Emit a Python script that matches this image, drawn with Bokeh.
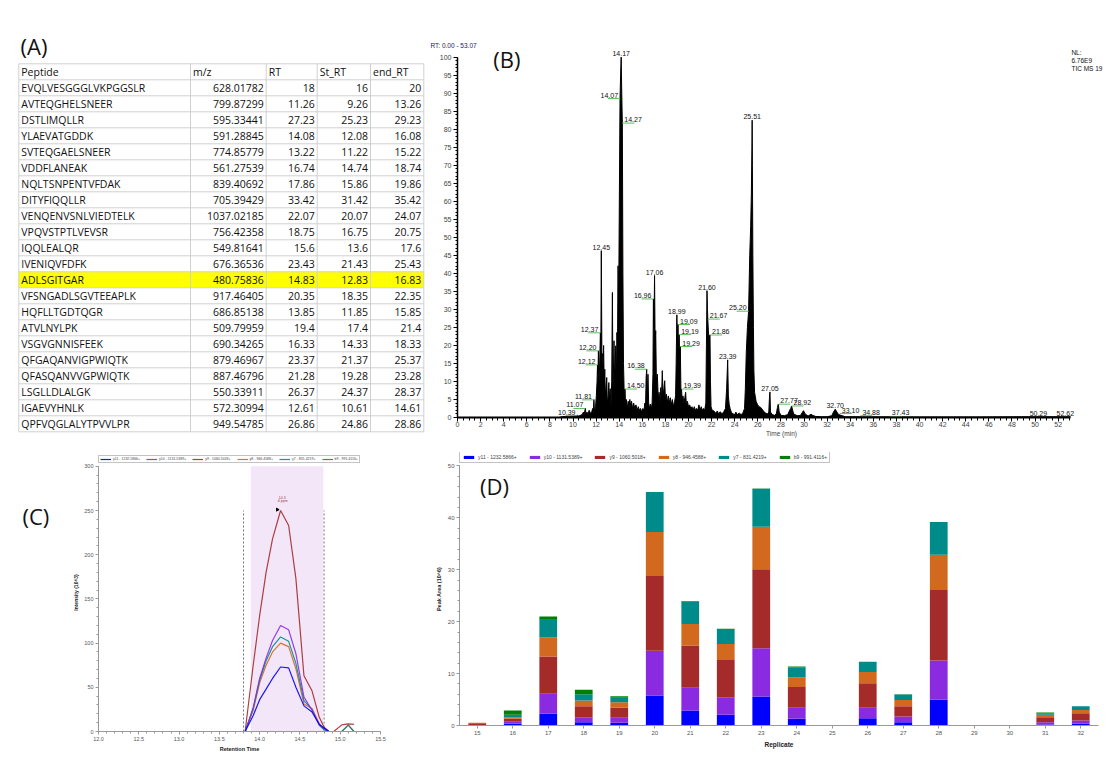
from math import pi
from bokeh.plotting import figure
from bokeh.models import (Range1d, FactorRange, Label, Legend, LegendItem, BoxAnnotation,
                          SingleIntervalTicker, NumeralTickFormatter, ColumnDataSource)
from bokeh.layouts import column, row
from bokeh.embed import file_html
from bokeh.resources import INLINE
from bokeh.core.properties import value

FONT = "Liberation Sans"
TFONT = "Open Sans"

# ---------------- (A) table data ----------------
table_header = ["Peptide", "m/z", "RT", "St_RT", "end_RT"]
peptides = ["EVQLVESGGGLVKPGGSLR", "AVTEQGHELSNEER", "DSTLIMQLLR", "YLAEVATGDDK",
            "SVTEQGAELSNEER", "VDDFLANEAK", "NQLTSNPENTVFDAK", "DITYFIQQLLR",
            "VENQENVSNLVIEDTELK", "VPQVSTPTLVEVSR", "IQQLEALQR", "IVENIQVFDFK",
            "ADLSGITGAR", "VFSNGADLSGVTEEAPLK", "HQFLLTGDTQGR", "ATVLNYLPK",
            "VSGVGNNISFEEK", "QFGAQANVIGPWIQTK", "QFASQANVVGPWIQTK", "LSGLLDLALGK",
            "IGAEVYHNLK", "QPFVQGLALYTPVVLPR"]
mz = [628.01782, 799.87299, 595.33441, 591.28845, 774.85779, 561.27539, 839.40692,
      705.39429, 1037.02185, 756.42358, 549.81641, 676.36536, 480.75836, 917.46405,
      686.85138, 509.79959, 690.34265, 879.46967, 887.46796, 550.33911, 572.30994,
      949.54785]
rt = [18, 11.26, 27.23, 14.08, 13.22, 16.74, 17.86, 33.42, 22.07, 18.75, 15.6, 23.43,
      14.83, 20.35, 13.85, 19.4, 16.33, 23.37, 21.28, 26.37, 12.61, 26.86]
st_rt = [16, 9.26, 25.23, 12.08, 11.22, 14.74, 15.86, 31.42, 20.07, 16.75, 13.6, 21.43,
         12.83, 18.35, 11.85, 17.4, 14.33, 21.37, 19.28, 24.37, 10.61, 24.86]
end_rt = [20, 13.26, 29.23, 16.08, 15.22, 18.74, 19.86, 35.42, 24.07, 20.75, 17.6, 25.43,
          16.83, 22.35, 15.85, 21.4, 18.33, 25.37, 23.28, 28.37, 14.61, 28.86]
highlighted_peptide = "ADLSGITGAR"

# ---------------- (B) TIC chromatogram ----------------
tic_rt = [
    0.0, 8.8, 9.0, 9.5, 10.0, 10.39, 10.5, 10.8, 10.9, 10.95,
    11.07, 11.12, 11.2, 11.3, 11.4, 11.5, 11.62, 11.7, 11.75, 11.81,
    11.86, 11.95, 12.02, 12.08, 12.12, 12.16, 12.2, 12.25, 12.3, 12.37,
    12.41, 12.45, 12.5, 12.55, 12.6, 12.65, 12.7, 12.75, 12.8, 12.85,
    12.92, 12.97, 13.05, 13.1, 13.15, 13.22, 13.28, 13.35, 13.41, 13.46,
    13.5, 13.55, 13.6, 13.65, 13.7, 13.75, 13.8, 13.85, 13.9, 13.95,
    14.0, 14.07, 14.12, 14.17, 14.22, 14.27, 14.32, 14.37, 14.42, 14.46,
    14.5, 14.55, 14.62, 14.7, 14.78, 14.85, 14.92, 15.0, 15.07, 15.15,
    15.25, 15.35, 15.45, 15.55, 15.65, 15.75, 15.85, 15.95, 16.05, 16.15,
    16.22, 16.28, 16.33, 16.38, 16.43, 16.49, 16.55, 16.62, 16.7, 16.78,
    16.85, 16.92, 16.96, 17.01, 17.06, 17.11, 17.16, 17.22, 17.3, 17.38,
    17.45, 17.52, 17.6, 17.66, 17.73, 17.8, 17.87, 17.94, 18.0, 18.08,
    18.16, 18.25, 18.33, 18.42, 18.5, 18.6, 18.7, 18.8, 18.88, 18.93,
    18.99, 19.04, 19.09, 19.14, 19.19, 19.24, 19.29, 19.34, 19.39, 19.45,
    19.52, 19.6, 19.68, 19.75, 19.82, 19.9, 20.0, 20.1, 20.2, 20.3,
    20.4, 20.5, 20.6, 20.7, 20.8, 20.9, 21.0, 21.1, 21.2, 21.3,
    21.4, 21.5, 21.55, 21.6, 21.64, 21.67, 21.72, 21.78, 21.86, 21.9,
    21.95, 22.05, 22.2, 22.35, 22.5, 22.6, 22.75, 22.9, 23.05, 23.2,
    23.3, 23.39, 23.45, 23.52, 23.6, 23.7, 23.85, 24.0, 24.1, 24.2,
    24.4, 24.55, 24.7, 24.85, 24.92, 25.0, 25.1, 25.2, 25.3, 25.38,
    25.44, 25.49, 25.51, 25.53, 25.57, 25.62, 25.66, 25.72, 25.85, 25.96,
    26.1, 26.25, 26.4, 26.55, 26.7, 26.85, 26.95, 27.0, 27.05, 27.1,
    27.25, 27.45, 27.6, 27.7, 27.77, 27.85, 28.0, 28.3, 28.6, 28.75,
    28.85, 28.92, 29.1, 29.4, 29.7, 29.95, 30.1, 30.35, 30.6, 30.75,
    31.0, 31.5, 32.0, 32.4, 32.55, 32.7, 32.85, 33.0, 33.3, 33.6,
    35.0, 40.0, 45.0, 50.0, 53.07,
]
tic_abundance = [
    0.0, 0.0, 0.2, 0.3, 0.4, 0.6, 0.4, 0.8, 1.5, 0.6,
    2.6, 0.8, 1.5, 1.0, 2.0, 1.2, 1.5, 2.5, 1.0, 5.0,
    1.5, 3.0, 6.0, 10.0, 14.6, 12.0, 18.5, 10.0, 14.0, 23.5,
    20.0, 46.3, 18.0, 17.6, 14.0, 20.0, 9.0, 13.4, 6.0, 8.0,
    11.1, 4.0, 6.0, 9.7, 5.0, 8.0, 3.0, 10.0, 34.7, 8.0,
    12.0, 21.3, 10.0, 14.0, 19.9, 9.0, 23.6, 20.0, 42.1, 30.0,
    55.0, 88.5, 95.0, 100.0, 90.0, 81.7, 40.0, 15.0, 8.3, 4.0,
    7.9, 3.0, 5.0, 2.5, 4.5, 2.5, 5.0, 3.0, 4.5, 2.5,
    4.0, 2.5, 3.5, 2.0, 3.0, 2.0, 2.5, 1.5, 2.5, 2.0,
    4.0, 3.0, 11.0, 13.4, 5.0, 12.0, 4.0, 2.5, 3.7, 2.5,
    4.0, 12.0, 32.9, 25.0, 39.4, 20.0, 24.1, 10.0, 12.0, 5.0,
    7.0, 4.0, 8.3, 5.0, 13.0, 6.0, 8.0, 10.2, 5.0, 6.5,
    4.0, 6.0, 4.0, 5.5, 3.5, 5.0, 3.0, 4.5, 6.0, 15.0,
    28.5, 22.0, 25.8, 18.0, 23.0, 15.0, 19.7, 8.0, 7.9, 5.0,
    6.0, 4.0, 5.5, 7.0, 3.5, 4.5, 3.0, 3.5, 2.5, 3.0,
    2.0, 3.0, 2.0, 2.5, 2.0, 3.5, 2.0, 3.0, 2.0, 2.5,
    2.0, 4.0, 20.0, 35.2, 30.0, 27.3, 24.0, 22.0, 22.9, 10.0,
    3.0, 2.0, 1.8, 1.2, 1.8, 1.0, 1.6, 1.0, 1.6, 2.5,
    8.0, 16.0, 6.0, 3.7, 2.5, 1.5, 1.0, 0.8, 1.5, 0.8,
    1.2, 0.8, 1.2, 2.5, 8.0, 18.0, 25.0, 29.5, 45.0, 53.0,
    62.0, 75.0, 82.5, 70.0, 45.0, 25.0, 13.0, 7.0, 4.5, 3.7,
    3.0, 2.8, 2.2, 1.5, 1.2, 1.0, 1.5, 5.0, 7.1, 1.5,
    0.8, 0.6, 1.0, 2.8, 3.7, 1.5, 0.6, 0.5, 0.8, 2.0,
    2.5, 3.2, 1.0, 0.5, 0.6, 1.9, 1.0, 0.4, 0.9, 0.6,
    0.3, 0.2, 0.2, 0.5, 1.5, 2.3, 1.5, 0.8, 0.5, 0.2,
    0.2, 0.15, 0.15, 0.2, 0.2,
]
peak_rt = [14.17, 14.07, 14.27, 25.51, 12.45, 17.06, 16.96, 21.60, 21.67, 21.86,
           18.99, 19.09, 19.19, 19.29, 19.39, 25.20, 23.39, 12.37, 12.20, 12.12,
           16.38, 14.50, 11.81, 11.07, 10.39, 27.05, 27.77, 28.92, 32.70, 33.10,
           34.88, 37.43, 50.29, 52.62]
peak_abundance = [100.0, 88.5, 81.7, 82.5, 46.3, 39.4, 32.9, 35.2, 27.3, 22.9,
                  28.5, 25.8, 23.0, 19.7, 7.9, 29.5, 16.0, 23.5, 18.5, 14.6,
                  13.4, 7.9, 4.9, 2.5, 0.5, 7.1, 3.7, 3.2, 2.3, 1.1,
                  0.5, 0.3, 0.2, 0.2]
peak_side = ["t", "l", "r", "t", "t", "t", "l", "t", "r", "r",
             "t", "r", "r", "r", "r", "l", "t", "l", "l", "l",
             "l", "r", "l", "l", "l", "t", "r", "r", "t", "r",
             "r", "r", "t", "t"]
tic_info = ["NL:", "6.76E9", "TIC  MS 19"]

# ---------------- (C) XIC ----------------
xic_time = [12.33, 13.56, 13.82, 13.92, 14.0, 14.08, 14.16, 14.26, 14.36, 14.45,
            14.55, 14.65, 14.74, 14.8, 14.86, 14.92, 15.02, 15.1, 15.17]
xic_y11 = [0, 0, 0, 18, 36, 48, 60, 73, 72, 50, 29, 22, 8, 4, 0, 0, 0, 0, 0]
xic_y10 = [0, 0, 0, 27, 60, 83, 103, 120, 115, 88, 39, 24, 8, 3, 0, 0, 0, 0, 0]
xic_y9 = [0, 0, 0, 75, 131, 180, 218, 250, 233, 173, 63, 46, 16, 5, 0, 0, 7.5, 8.7, 8]
xic_y8 = [0, 0, 0, 24, 55, 75, 90, 100, 96, 71, 31, 26, 9, 3, 0, 0, 0, 7, 0]
xic_y7 = [0, 0, 0, 26, 58, 80, 96, 107, 102, 77, 35, 25, 7, 2, 0, 0, 0, 7.5, 0]
xic_b9_time = [13.56, 14.82]
xic_b9 = [0, 0]
ion_labels = ["y11 - 1232.5866+", "y10 - 1131.5389+", "y9 - 1060.5018+",
              "y8 - 946.4588+", "y7 - 831.4219+", "b9 - 991.4116+"]
ion_colors = ["#0000ff", "#8a2be2", "#a52a2a", "#d2691e", "#008b8b", "#008000"]
integration_start, integration_end = 13.89, 14.79
boundary_times = [13.8, 14.8]
apex_time, apex_value = 14.26, 250

# ---------------- (D) peak areas ----------------
replicates = [str(v) for v in range(15, 33)]
area_y11 = [0.0, 0.35, 2.25, 0.65, 0.55, 5.8, 2.9, 2.05, 5.6, 1.3, 0, 1.4, 0.65, 4.95, 0, 0, 0.2, 0.32]
area_y10 = [0.05, 0.35, 3.85, 0.95, 0.95, 8.6, 4.35, 3.4, 9.3, 2.1, 0, 2.0, 1.1, 7.55, 0, 0, 0.45, 0.64]
area_y9 = [0.4, 0.6, 7.2, 2.1, 1.9, 14.4, 8.15, 7.15, 15.2, 4.0, 0, 4.75, 1.95, 13.6, 0, 0, 0.95, 1.41]
area_y8 = [0.1, 0.3, 3.7, 1.1, 1.1, 8.5, 4.15, 3.1, 8.2, 1.9, 0, 2.15, 1.2, 6.8, 0, 0, 0.45, 0.63]
area_y7 = [0.0, 0.45, 3.5, 1.2, 0.85, 7.7, 4.35, 2.9, 7.3, 1.9, 0, 2.0, 1.05, 6.3, 0, 0, 0.3, 0.7]
area_b9 = [0.0, 0.85, 0.5, 0.9, 0.3, 0.0, 0.1, 0.05, 0.05, 0.15, 0, 0, 0.05, 0, 0, 0, 0.15, 0.0]


def bare(width, height, xr, yr):
    p = figure(width=width, height=height, x_range=xr, y_range=yr,
               output_backend="svg", toolbar_location=None,
               x_axis_location=None, y_axis_location=None, min_border=0)
    p.grid.visible = False
    p.outline_line_color = None
    return p


# ======================= (A) =======================
def build_table():
    # canvas coordinates: x 0..430, y 0..440 (top to bottom)
    p = bare(430, 440, Range1d(0, 430), Range1d(440, 0))
    xb = [18.3, 190.0, 265.7, 316.7, 370.0, 423.3]
    top0, rh = 63.3, 16.0
    nrows = len(peptides) + 1
    hi = peptides.index(highlighted_peptide) + 1
    p.quad(left=[xb[0]], right=[xb[-1]], top=[top0 + hi * rh], bottom=[top0 + (hi + 1) * rh],
           fill_color="#ffff00", line_color=None)
    ys = [top0 + i * rh for i in range(nrows + 1)]
    p.segment(x0=[xb[0]] * len(ys), x1=[xb[-1]] * len(ys), y0=ys, y1=ys,
              line_color="#d0d0d0", line_width=1)
    p.segment(x0=xb, x1=xb, y0=[ys[0]] * len(xb), y1=[ys[-1]] * len(xb),
              line_color="#d0d0d0", line_width=1)
    common = dict(text_font=value(TFONT), text_font_size="10.5px", text_color="#111111",
                  text_baseline="middle")
    p.text(x=[xb[i] + 2.5 for i in range(5)], y=[top0 + rh / 2 + 0.5] * 5, text=table_header,
           text_align="left", **common)
    yc = [top0 + (i + 1) * rh + rh / 2 + 0.5 for i in range(len(peptides))]
    p.text(x=[xb[0] + 2.5] * len(peptides), y=yc, text=peptides, text_align="left", **common)
    for ci, col in enumerate([mz, rt, st_rt, end_rt]):
        p.text(x=[xb[ci + 2] - 2.5] * len(col), y=yc, text=[str(v) for v in col],
               text_align="right", **common)
    p.add_layout(Label(x=20, y=45, text="(A)", text_font=TFONT, text_font_size="22px",
                       text_baseline="middle", text_color="#111111"))
    return p


# ======================= (B) =======================
def build_tic():
    # frame: x 457..1105 (0..56.1 min), y 48..417 (102.4..0 %)
    p = figure(width=677, height=440, x_range=Range1d(0, 56.1), y_range=Range1d(0, 102.4),
               output_backend="svg", toolbar_location=None, title="RT: 0.00 - 53.07",
               min_border_left=27, min_border_right=2, min_border_top=48, min_border_bottom=23)
    p.grid.visible = False
    p.outline_line_color = None
    p.title.align = "left"
    p.title.offset = -27
    p.title.standoff = 0
    p.title.text_font = FONT
    p.title.text_font_size = "6.5px"
    p.title.text_font_style = "normal"
    p.title.text_color = "#1c1c5c"

    p.varea(x=tic_rt, y1=[0] * len(tic_rt), y2=tic_abundance, fill_color="black")
    p.line(x=tic_rt, y=tic_abundance, line_color="black", line_width=1)

    px_x, px_y = 1 / 11.55, 1 / 3.603
    lx, ly, la, gx0, gx1, gy = [], [], [], [], [], []
    for t, a, s in zip(peak_rt, peak_abundance, peak_side):
        if s == "t":
            lx.append(t); la.append("center")
        elif s == "l":
            lx.append(t - 2 * px_x); la.append("right")
            gx0.append(t - 12 * px_x); gx1.append(t); gy.append(a)
        else:
            lx.append(t + 2 * px_x); la.append("left")
            gx0.append(t); gx1.append(t + 12 * px_x); gy.append(a)
        ly.append(a + 1 * px_y)
    p.segment(x0=gx0, x1=gx1, y0=gy, y1=gy, line_color="#5cc05c", line_width=1)
    p.text(x=lx, y=ly, text=[f"{t:.2f}" for t in peak_rt], text_align=la,
           text_baseline="bottom", text_font=value(FONT), text_font_size="7px",
           text_color="#101010")
    p.text(x=[53.15] * 3, y=[101.2 - i * 8 * px_y for i in range(3)], text=tic_info,
           text_baseline="middle", text_font=value(FONT), text_font_size="6.5px",
           text_color="#101010")

    ax = p.xaxis[0]
    ax.bounds = (0, 53.07)
    ax.ticker = SingleIntervalTicker(interval=2, num_minor_ticks=4)
    ax.axis_line_width = 2
    ax.major_tick_out = 4
    ax.major_tick_in = 0
    ax.minor_tick_out = 3
    ax.minor_tick_in = 0
    ax.major_label_text_font = FONT
    ax.major_label_text_font_size = "7px"
    ax.major_label_standoff = 0
    ax.axis_label = "Time (min)"
    ax.axis_label_text_font = FONT
    ax.axis_label_text_font_size = "6.5px"
    ax.axis_label_text_font_style = "normal"
    ax.axis_label_standoff = 0
    ay = p.yaxis[0]
    ay.bounds = (0, 100)
    ay.ticker = SingleIntervalTicker(interval=5, num_minor_ticks=5)
    ay.axis_line_width = 1.5
    ay.major_tick_out = 4
    ay.major_tick_in = 0
    ay.minor_tick_out = 2
    ay.minor_tick_in = 0
    ay.major_label_text_font = FONT
    ay.major_label_text_font_size = "7px"
    ay.major_label_standoff = 2

    p.add_layout(Label(x=3.1, y=99.6, text="(B)", text_font=TFONT, text_font_size="22px",
                       text_baseline="middle", text_color="#111111"))
    return p


# ======================= (C) =======================
def build_c_letter():
    p = bare(70, 324, Range1d(0, 70), Range1d(324, 0))
    p.add_layout(Label(x=22, y=75, text="(C)", text_font=TFONT, text_font_size="22px",
                       text_baseline="middle", text_color="#111111"))
    return p


def style_axes(p, size):
    for ax in (p.xaxis[0], p.yaxis[0]):
        ax.axis_line_color = "#999999"
        ax.major_tick_line_color = "#999999"
        ax.minor_tick_line_color = "#999999"
        ax.major_tick_out = 3
        ax.major_tick_in = 0
        ax.minor_tick_out = 2
        ax.minor_tick_in = 0
        ax.major_label_text_font = FONT
        ax.major_label_text_font_size = size
        ax.major_label_text_color = "#555555"
        ax.major_label_standoff = 2
        ax.axis_label_text_font = FONT
        ax.axis_label_text_font_style = "bold"
        ax.axis_label_text_color = "#222222"
        ax.axis_label_standoff = 3


def build_xic():
    # frame: x 97..380, y 453..731 (314.5..0); axis drawn only up to 300
    p = figure(width=360, height=324, x_range=Range1d(12.0, 15.5), y_range=Range1d(0, 314.5),
               output_backend="svg", toolbar_location=None,
               min_border_left=27, min_border_right=50, min_border_top=13, min_border_bottom=33)
    p.grid.visible = False
    p.outline_line_color = None
    p.add_layout(BoxAnnotation(left=integration_start, right=integration_end, bottom=0, top=300,
                               fill_color="#f4e6f9", fill_alpha=1, line_color=None,
                               level="underlay"))
    p.segment(x0=boundary_times, x1=boundary_times, y0=[0, 0], y1=[250, 250],
              line_color="#777777", line_dash="2 2", line_width=1)
    series = [xic_y11, xic_y10, xic_y9, xic_y8, xic_y7]
    rends = {}
    for idx in [2, 3, 4, 1, 0]:
        rends[idx] = p.line(x=xic_time, y=series[idx], line_color=ion_colors[idx],
                            line_width=1.2, line_alpha=0.9)
    rends[5] = p.line(x=xic_b9_time, y=xic_b9, line_color=ion_colors[5], line_width=1.2,
                      line_alpha=0.8)
    p.scatter(x=[apex_time - 0.04], y=[apex_value + 1], marker="triangle", size=3,
              angle=-pi / 2, color="black")
    p.text(x=[apex_time + 0.02] * 2, y=[apex_value + 13, apex_value + 8],
           text=["14.3", "-6 ppm"], text_font=value(FONT), text_font_size="3.5px",
           text_align="center", text_color="#a04040")
    legend = Legend(items=[LegendItem(label=ion_labels[i], renderers=[rends[i]]) for i in range(6)],
                    orientation="horizontal", location=(0, 268),
                    label_text_font=FONT, label_text_font_size="3.5px", label_height=4,
                    label_width=10, glyph_width=11, glyph_height=4, label_standoff=2,
                    spacing=6, padding=1, margin=0, border_line_color="#888888",
                    border_line_width=1, background_fill_color="white")
    p.add_layout(legend)
    style_axes(p, "5.5px")
    p.xaxis[0].ticker = SingleIntervalTicker(interval=0.5, num_minor_ticks=5)
    p.xaxis[0].formatter = NumeralTickFormatter(format="0.0")
    p.yaxis[0].ticker = SingleIntervalTicker(interval=50, num_minor_ticks=5)
    p.yaxis[0].bounds = (0, 300)
    p.xaxis[0].axis_label = "Retention Time"
    p.xaxis[0].axis_label_text_font_size = "5.5px"
    p.xaxis[0].axis_label_standoff = 2
    p.yaxis[0].axis_label = "Intensity (10^3)"
    p.yaxis[0].axis_label_text_font_size = "5px"
    p.yaxis[0].axis_label_standoff = 2
    return p


# ======================= (D) =======================
def build_areas():
    # frame: x 459..1098, y 452..725 (52.6..0); axis drawn only up to 50
    p = figure(width=677, height=324, x_range=FactorRange(*replicates, range_padding=0),
               y_range=Range1d(0, 52.6), output_backend="svg", toolbar_location=None,
               min_border_left=29, min_border_right=9, min_border_top=12, min_border_bottom=39)
    p.grid.visible = False
    p.outline_line_color = None
    keys = ["y11", "y10", "y9", "y8", "y7", "b9"]
    src = ColumnDataSource(dict(rep=replicates, y11=area_y11, y10=area_y10, y9=area_y9,
                                y8=area_y8, y7=area_y7, b9=area_b9))
    rends = p.vbar_stack(keys, x="rep", width=0.5, color=ion_colors, source=src,
                         line_color=None)
    legend = Legend(items=[LegendItem(label=ion_labels[i], renderers=[rends[i]]) for i in range(6)],
                    orientation="horizontal", location=(0, 262),
                    label_text_font=FONT, label_text_font_size="5px", label_height=5,
                    label_width=10, glyph_width=13, glyph_height=4, label_standoff=3,
                    spacing=11, padding=2, margin=0, border_line_color="#888888",
                    border_line_width=1, background_fill_color="white")
    p.add_layout(legend)
    style_axes(p, "6px")
    p.yaxis[0].ticker = SingleIntervalTicker(interval=10, num_minor_ticks=5)
    p.yaxis[0].bounds = (0, 50)
    p.xaxis[0].axis_label = "Replicate"
    p.xaxis[0].axis_label_text_font_size = "6.5px"
    p.yaxis[0].axis_label = "Peak Area (10^6)"
    p.yaxis[0].axis_label_text_font_size = "5.5px"
    p.add_layout(Label(x=0.58, y=43.3, text="(D)", text_font=TFONT, text_font_size="22px",
                       text_color="#111111"))
    return p


layout = column(
    row(column(build_table()), column(build_tic())),
    row(column(build_c_letter()), column(build_xic()), column(build_areas())),
)
open("out.html", "w").write(file_html(layout, INLINE))
